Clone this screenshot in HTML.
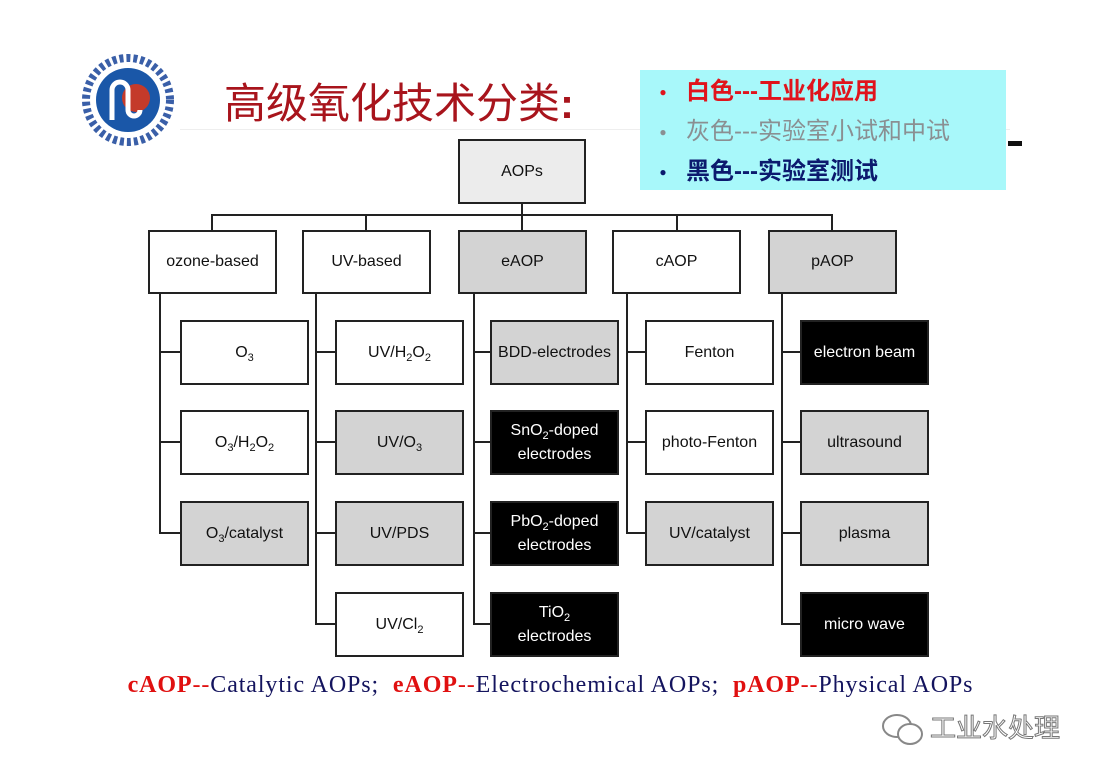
<!DOCTYPE html><html><head><meta charset="utf-8"><style>
body{margin:0;width:1101px;height:766px;background:#fff;position:relative;overflow:hidden;font-family:"Liberation Sans",Arial,sans-serif}
.b{position:absolute;box-sizing:border-box;border:2px solid #222;display:flex;align-items:center;justify-content:center;text-align:center;font-size:16px;color:#111;line-height:24px}
.b sub{font-size:11px;line-height:0}
.g{background:#d3d3d3}.k{background:#000;color:#fff}
.l{position:absolute;background:#222}
.cn{font-family:"Liberation Sans","Noto Sans CJK SC",sans-serif}
</style></head><body>
<div style="position:absolute;left:180px;top:129px;width:830px;height:1px;background:#eee"></div>
<div style="position:absolute;left:1008px;top:141px;width:14px;height:5px;background:#111"></div>
<svg style="position:absolute;left:78px;top:40px" width="100" height="120"><circle cx="50" cy="60" r="42" fill="none" stroke="#3a5fa8" stroke-width="8" stroke-dasharray="4 3"/><circle cx="50" cy="60" r="32" fill="#1a57a8"/><circle cx="58" cy="58" r="14" fill="#c43a2a"/><path d="M34 80 V50 a8 8 0 0 1 16 0 V70 a6 6 0 0 0 12 0" fill="none" stroke="#fff" stroke-width="5"/></svg>
<div class="cn" style="position:absolute;left:224px;top:78px;font-size:42px;color:#a8141c;line-height:52px">高级氧化技术分类<b>:</b></div>
<div class="cn" style="position:absolute;left:640px;top:70px;width:366px;height:120px;background:#a8f8fa;font-size:24px;line-height:39px;padding-top:2px;box-sizing:border-box;font-weight:bold">
<div style="color:#e0141c"><span style="display:inline-block;width:46px;text-align:center;font-size:12px;vertical-align:middle">●</span>白色---工业化应用</div>
<div style="color:#8a8f92;font-weight:normal"><span style="display:inline-block;width:46px;text-align:center;font-size:12px;vertical-align:middle">●</span>灰色---实验室小试和中试</div>
<div style="color:#0c1a6e"><span style="display:inline-block;width:46px;text-align:center;font-size:12px;vertical-align:middle">●</span>黑色---实验室测试</div>
</div>
<div class="b" style="left:458px;top:139px;width:128px;height:65px;background:#ececec">AOPs</div>
<div class="l" style="left:521px;top:203px;width:2px;height:13px"></div>
<div class="l" style="left:211px;top:214px;width:622px;height:2px"></div>
<div class="l" style="left:211px;top:214px;width:2px;height:16px"></div>
<div class="l" style="left:365px;top:214px;width:2px;height:16px"></div>
<div class="l" style="left:521px;top:214px;width:2px;height:16px"></div>
<div class="l" style="left:676px;top:214px;width:2px;height:16px"></div>
<div class="l" style="left:831px;top:214px;width:2px;height:16px"></div>

<div class="b" style="left:148px;top:230px;width:129px;height:64px">ozone-based</div>
<div class="b" style="left:302px;top:230px;width:129px;height:64px">UV-based</div>
<div class="b g" style="left:458px;top:230px;width:129px;height:64px">eAOP</div>
<div class="b" style="left:612px;top:230px;width:129px;height:64px">cAOP</div>
<div class="b g" style="left:768px;top:230px;width:129px;height:64px">pAOP</div>

<div class="l" style="left:159px;top:294px;width:2px;height:240px"></div>
<div class="l" style="left:315px;top:294px;width:2px;height:331px"></div>
<div class="l" style="left:473px;top:294px;width:2px;height:331px"></div>
<div class="l" style="left:626px;top:294px;width:2px;height:240px"></div>
<div class="l" style="left:781px;top:294px;width:2px;height:331px"></div>
<div class="l" style="left:159px;top:351px;width:22px;height:2px"></div>
<div class="l" style="left:159px;top:441px;width:22px;height:2px"></div>
<div class="l" style="left:159px;top:532px;width:22px;height:2px"></div>
<div class="l" style="left:315px;top:351px;width:22px;height:2px"></div>
<div class="l" style="left:315px;top:441px;width:22px;height:2px"></div>
<div class="l" style="left:315px;top:532px;width:22px;height:2px"></div>
<div class="l" style="left:315px;top:623px;width:22px;height:2px"></div>
<div class="l" style="left:473px;top:351px;width:18px;height:2px"></div>
<div class="l" style="left:473px;top:441px;width:18px;height:2px"></div>
<div class="l" style="left:473px;top:532px;width:18px;height:2px"></div>
<div class="l" style="left:473px;top:623px;width:18px;height:2px"></div>
<div class="l" style="left:626px;top:351px;width:20px;height:2px"></div>
<div class="l" style="left:626px;top:441px;width:20px;height:2px"></div>
<div class="l" style="left:626px;top:532px;width:20px;height:2px"></div>
<div class="l" style="left:781px;top:351px;width:20px;height:2px"></div>
<div class="l" style="left:781px;top:441px;width:20px;height:2px"></div>
<div class="l" style="left:781px;top:532px;width:20px;height:2px"></div>
<div class="l" style="left:781px;top:623px;width:20px;height:2px"></div>

<div class="b" style="left:180px;top:320px;width:129px;height:65px"><span>O<sub>3</sub></span></div>
<div class="b" style="left:180px;top:410px;width:129px;height:65px"><span>O<sub>3</sub>/H<sub>2</sub>O<sub>2</sub></span></div>
<div class="b g" style="left:180px;top:501px;width:129px;height:65px"><span>O<sub>3</sub>/catalyst</span></div>

<div class="b" style="left:335px;top:320px;width:129px;height:65px"><span>UV/H<sub>2</sub>O<sub>2</sub></span></div>
<div class="b g" style="left:335px;top:410px;width:129px;height:65px"><span>UV/O<sub>3</sub></span></div>
<div class="b g" style="left:335px;top:501px;width:129px;height:65px">UV/PDS</div>
<div class="b" style="left:335px;top:592px;width:129px;height:65px"><span>UV/Cl<sub>2</sub></span></div>

<div class="b g" style="left:490px;top:320px;width:129px;height:65px">BDD-electrodes</div>
<div class="b k" style="left:490px;top:410px;width:129px;height:65px"><span>SnO<sub>2</sub>-doped<br>electrodes</span></div>
<div class="b k" style="left:490px;top:501px;width:129px;height:65px"><span>PbO<sub>2</sub>-doped<br>electrodes</span></div>
<div class="b k" style="left:490px;top:592px;width:129px;height:65px"><span>TiO<sub>2</sub><br>electrodes</span></div>

<div class="b" style="left:645px;top:320px;width:129px;height:65px">Fenton</div>
<div class="b" style="left:645px;top:410px;width:129px;height:65px">photo-Fenton</div>
<div class="b g" style="left:645px;top:501px;width:129px;height:65px">UV/catalyst</div>

<div class="b k" style="left:800px;top:320px;width:129px;height:65px">electron beam</div>
<div class="b g" style="left:800px;top:410px;width:129px;height:65px">ultrasound</div>
<div class="b g" style="left:800px;top:501px;width:129px;height:65px">plasma</div>
<div class="b k" style="left:800px;top:592px;width:129px;height:65px">micro wave</div>

<div style="position:absolute;left:0;width:1101px;top:672px;text-align:center;font-family:'Liberation Serif',serif;font-size:24px;color:#14145e;white-space:nowrap;letter-spacing:0.9px"><b style="color:#e01010">cAOP</b><span style="color:#e01010">--</span>Catalytic AOPs;&nbsp; <b style="color:#e01010">eAOP</b><span style="color:#e01010">--</span>Electrochemical AOPs;&nbsp; <b style="color:#e01010">pAOP</b><span style="color:#e01010">--</span>Physical AOPs</div>
<svg style="position:absolute;left:880px;top:710px" width="50" height="40"><ellipse cx="17" cy="16" rx="14" ry="11" fill="none" stroke="#888" stroke-width="2"/><ellipse cx="30" cy="24" rx="12" ry="10" fill="#fff" stroke="#888" stroke-width="2"/></svg>
<div class="cn" style="position:absolute;left:930px;top:712px;font-size:26px;color:#fff;-webkit-text-stroke:1px #777;line-height:32px">工业水处理</div>
</body></html>
